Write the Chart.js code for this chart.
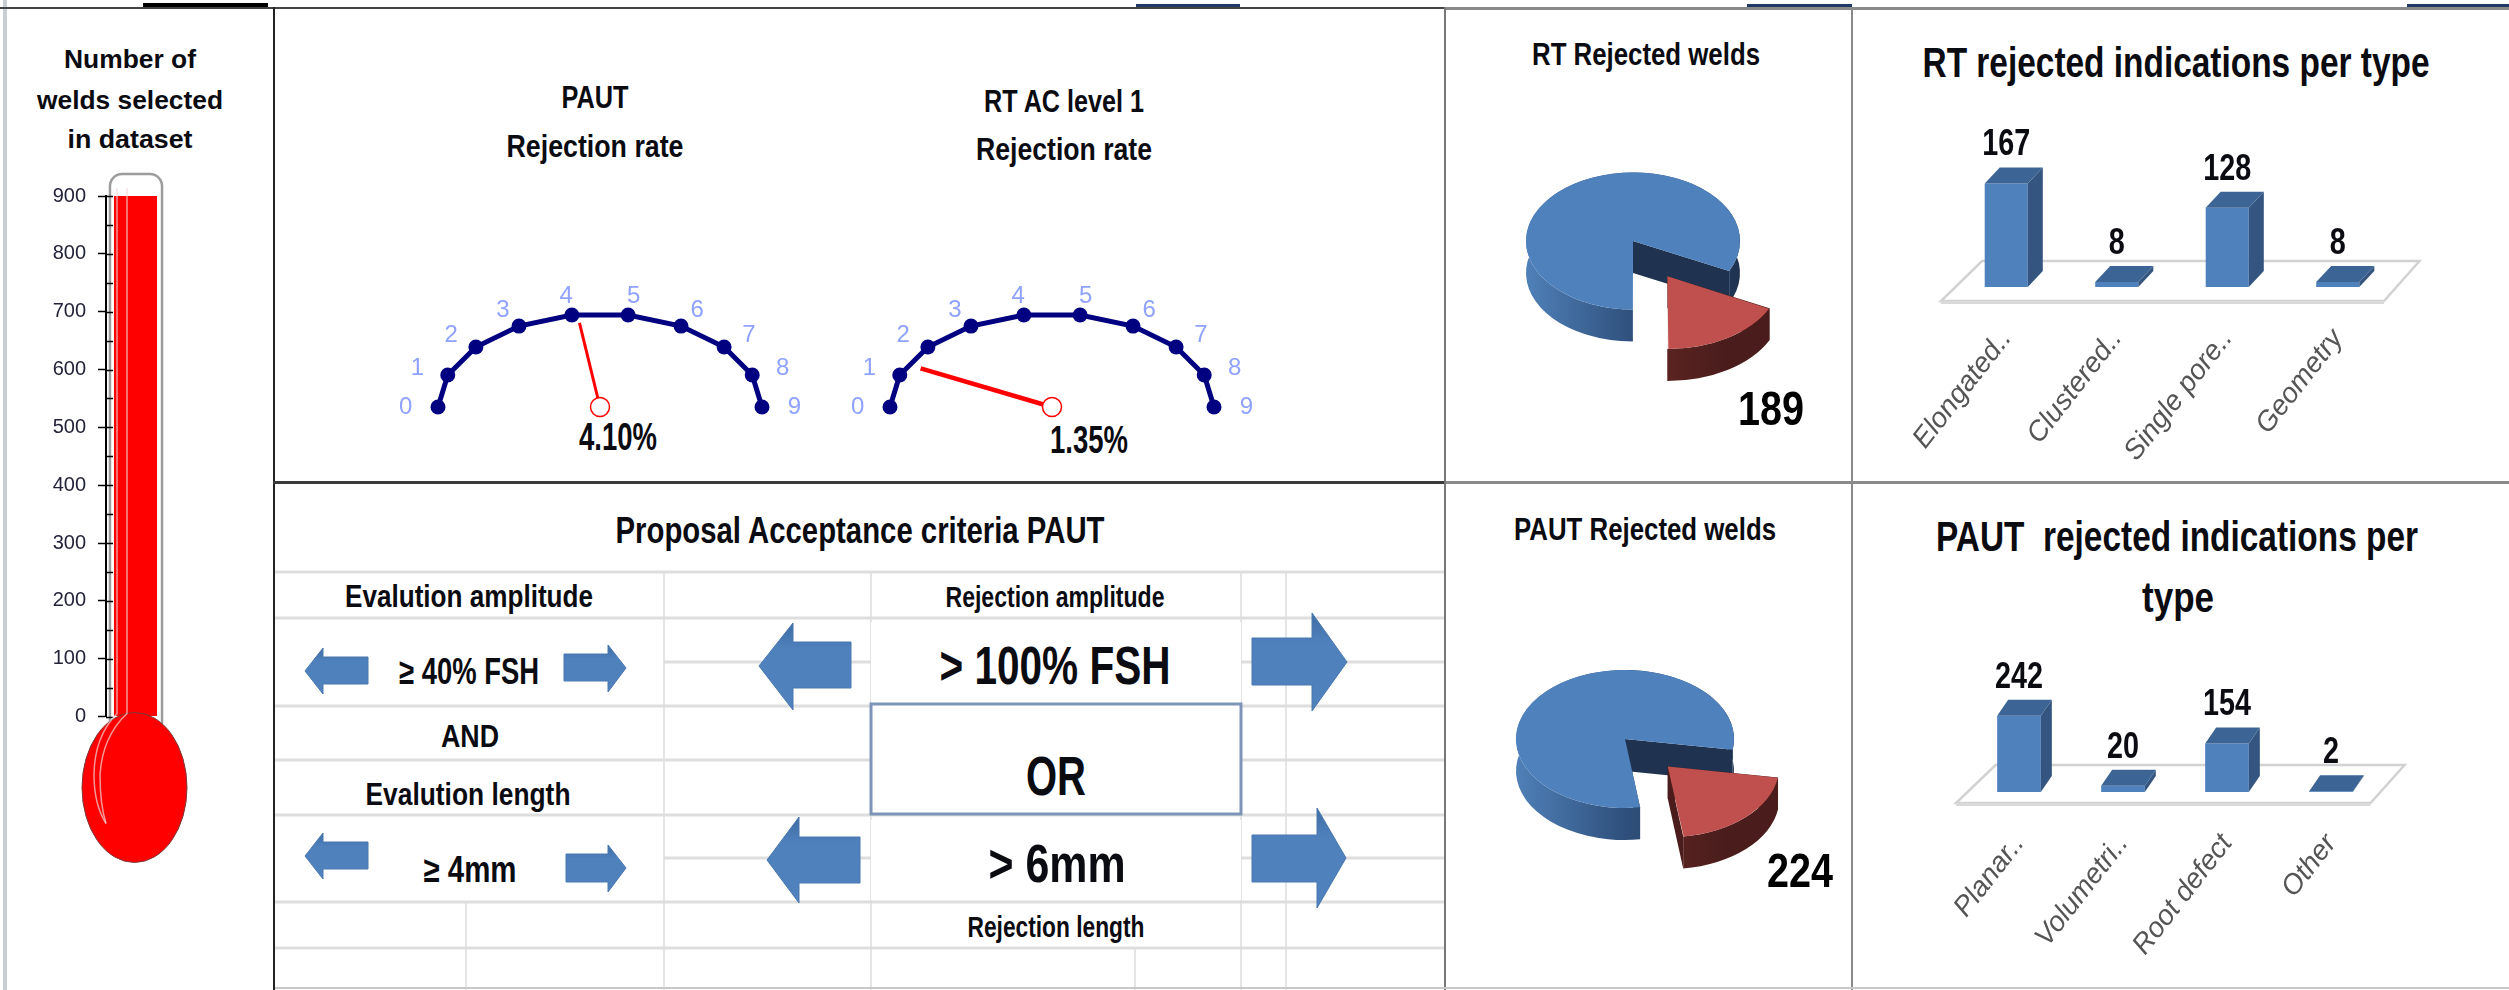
<!DOCTYPE html>
<html>
<head>
<meta charset="utf-8">
<title>Weld rejection dashboard</title>
<script src="https://cdn.jsdelivr.net/npm/chart.js@4/dist/chart.umd.min.js"></script>
<style>
  html, body { margin: 0; padding: 0; background: #fff; }
  #sheet { position: relative; width: 2509px; height: 990px; overflow: hidden; background: #fff; filter: blur(0.6px); }
  #sheet svg { position: absolute; left: 0; top: 0; }
  #sheet canvas { position: absolute; }
  text { font-family: "Liberation Sans Narrow", "Liberation Sans", sans-serif; fill: #0b0b12; font-weight: 700; text-anchor: middle; }
  .grid line { stroke: #dcdcdc; stroke-width: 1.5; }
  .gridheavy line { stroke: #dedede; stroke-width: 3; }
  .arrow { fill: url(#arrowFill); stroke: #4a78b0; stroke-width: 1; }
  .thermo { font-family: "Liberation Sans", sans-serif; }
</style>
</head>
<body>
<div id="sheet">
<svg width="2509" height="990" xmlns="http://www.w3.org/2000/svg">
  <defs>
    <linearGradient id="arrowFill" x1="0" y1="0" x2="0" y2="1">
      <stop offset="0" stop-color="#3f6da3"/>
      <stop offset="0.3" stop-color="#4f81bd"/>
      <stop offset="1" stop-color="#4f81bd"/>
    </linearGradient>
  </defs>

  <!-- sheet cells behind the criteria panel -->
  <g class="gridheavy">
    <line x1="275" y1="572" x2="1444" y2="572"/>
    <line x1="275" y1="618" x2="1444" y2="618"/>
    <line x1="664" y1="662" x2="871" y2="662"/>
    <line x1="1241" y1="662" x2="1444" y2="662"/>
    <line x1="275" y1="706" x2="1444" y2="706"/>
    <line x1="275" y1="760" x2="871" y2="760"/>
    <line x1="1241" y1="760" x2="1444" y2="760"/>
    <line x1="275" y1="815" x2="1444" y2="815"/>
    <line x1="664" y1="858" x2="871" y2="858"/>
    <line x1="1241" y1="858" x2="1444" y2="858"/>
    <line x1="275" y1="902" x2="1444" y2="902"/>
    <line x1="275" y1="948" x2="1444" y2="948"/>
  </g>
  <g class="grid">
    <line x1="664" y1="572" x2="664" y2="990"/>
    <line x1="871" y1="572" x2="871" y2="990"/>
    <line x1="1241" y1="572" x2="1241" y2="990"/>
    <line x1="1286" y1="572" x2="1286" y2="990"/>
    <line x1="466" y1="902" x2="466" y2="990"/>
    <line x1="1135" y1="948" x2="1135" y2="990"/>
  </g>
  <rect x="871" y="622" width="370" height="80" fill="#fff"/>
  <rect x="871" y="820" width="370" height="80" fill="#fff"/>
  <rect x="871" y="704" width="370" height="110" fill="#fff" stroke="#7d96b8" stroke-width="3"/>

  <!-- panel frame -->
  <rect x="3" y="0" width="4" height="990" fill="#c9ced4"/>
  <rect x="143" y="3" width="125" height="4" fill="#000"/>
  <rect x="1136" y="4" width="104" height="3" fill="#1f3864"/>
  <rect x="1747" y="4" width="105" height="3" fill="#1f3864"/>
  <rect x="2407" y="4" width="102" height="3" fill="#1f3864"/>
  <rect x="0" y="7" width="2509" height="2" fill="#444"/>
  <rect x="1445" y="7" width="1064" height="3" fill="#8a8a8a"/>
  <rect x="273" y="7" width="2" height="983" fill="#222"/>
  <rect x="273" y="481" width="1172" height="3" fill="#3a3a3a"/>
  <rect x="1445" y="481" width="1064" height="3" fill="#8a8a8a"/>
  <rect x="1444" y="7" width="2" height="983" fill="#777"/>
  <rect x="1851" y="7" width="2" height="983" fill="#8a8a8a"/>
  <rect x="275" y="987" width="2234" height="2" fill="#c8c8c8"/>

  <!-- arrows -->
  <polygon class="arrow" points="305,671 323,648 323,657 368,657 368,684 323,684 323,694"/>
  <polygon class="arrow" points="626,668 608,645 608,654 564,654 564,681 608,681 608,692"/>
  <polygon class="arrow" points="305,856 323,833 323,842 368,842 368,869 323,869 323,879"/>
  <polygon class="arrow" points="626,868 608,845 608,854 566,854 566,882 608,882 608,892"/>
  <polygon class="arrow" points="759,666 793,623 793,642 851,642 851,688 793,688 793,710"/>
  <polygon class="arrow" points="1347,662 1312,613 1312,638 1252,638 1252,685 1312,685 1312,711"/>
  <polygon class="arrow" points="767,860 799,817 799,837 860,837 860,883 799,883 799,903"/>
  <polygon class="arrow" points="1346,858 1317,808 1317,835 1252,835 1252,882 1317,882 1317,908"/>

  <!-- titles -->
  <g class="thermo">
    <text class="thermo" x="130" y="68" font-size="25" textLength="132" lengthAdjust="spacingAndGlyphs">Number of</text>
    <text class="thermo" x="130" y="109" font-size="25" textLength="186" lengthAdjust="spacingAndGlyphs">welds selected</text>
    <text class="thermo" x="130" y="148" font-size="25" textLength="125" lengthAdjust="spacingAndGlyphs">in dataset</text>
  </g>
  <text x="595" y="108" font-size="32" textLength="67" lengthAdjust="spacingAndGlyphs">PAUT</text>
  <text x="595" y="157" font-size="32" textLength="177" lengthAdjust="spacingAndGlyphs">Rejection rate</text>
  <text x="1064" y="112" font-size="32" textLength="160" lengthAdjust="spacingAndGlyphs">RT AC level 1</text>
  <text x="1064" y="160" font-size="32" textLength="176" lengthAdjust="spacingAndGlyphs">Rejection rate</text>
  <text id="pautRateText" x="618" y="450" font-size="38" textLength="78" lengthAdjust="spacingAndGlyphs"></text>
  <text id="rtRateText" x="1089" y="453" font-size="38" textLength="78" lengthAdjust="spacingAndGlyphs"></text>

  <text x="860" y="543" font-size="36" textLength="489" lengthAdjust="spacingAndGlyphs">Proposal Acceptance criteria PAUT</text>
  <text x="469" y="607" font-size="32" textLength="248" lengthAdjust="spacingAndGlyphs">Evalution amplitude</text>
  <text x="1055" y="607" font-size="29" textLength="219" lengthAdjust="spacingAndGlyphs">Rejection amplitude</text>
  <text x="469" y="684" font-size="36" textLength="140" lengthAdjust="spacingAndGlyphs">≥ 40% FSH</text>
  <text x="1055" y="684" font-size="54" textLength="231" lengthAdjust="spacingAndGlyphs">&gt; 100% FSH</text>
  <text x="470" y="747" font-size="32" textLength="58" lengthAdjust="spacingAndGlyphs">AND</text>
  <text x="1056" y="795" font-size="56" textLength="60" lengthAdjust="spacingAndGlyphs">OR</text>
  <text x="468" y="805" font-size="32" textLength="205" lengthAdjust="spacingAndGlyphs">Evalution length</text>
  <text x="470" y="882" font-size="36" textLength="93" lengthAdjust="spacingAndGlyphs">≥ 4mm</text>
  <text x="1057" y="882" font-size="54" textLength="137" lengthAdjust="spacingAndGlyphs">&gt; 6mm</text>
  <text x="1056" y="937" font-size="29" textLength="177" lengthAdjust="spacingAndGlyphs">Rejection length</text>

  <text x="1646" y="65" font-size="32" textLength="228" lengthAdjust="spacingAndGlyphs">RT Rejected welds</text>
  <text x="1645" y="540" font-size="32" textLength="262" lengthAdjust="spacingAndGlyphs">PAUT Rejected welds</text>
  <text x="2176" y="77" font-size="42" textLength="507" lengthAdjust="spacingAndGlyphs">RT rejected indications per type</text>
  <text x="2177" y="551" font-size="42" textLength="482" xml:space="preserve" lengthAdjust="spacingAndGlyphs">PAUT  rejected indications per</text>
  <text x="2178" y="612" font-size="42" textLength="72" lengthAdjust="spacingAndGlyphs">type</text>
</svg>

<canvas id="thermoChart" width="200" height="750" style="left:0;top:150px"></canvas>
<canvas id="pautDial" width="440" height="158" style="left:380px;top:277px"></canvas>
<canvas id="rtDial" width="440" height="158" style="left:832px;top:277px"></canvas>
<canvas id="rtPie" width="440" height="400" style="left:1413px;top:41px"></canvas>
<canvas id="pautPie" width="440" height="400" style="left:1405px;top:539px"></canvas>
<canvas id="rtBars" width="542" height="374" style="left:1891px;top:103px"></canvas>
<canvas id="pautBars" width="521" height="384" style="left:1907px;top:606px"></canvas>
</div>

<script>
// values
const weldsSelected = [900];
const dialTicks = [0, 1, 2, 3, 4, 5, 6, 7, 8, 9];
const pautRate = 4.10;
const rtRate = 1.35;
const rtWelds = [189, 873];
const pautWelds = [224, 880];
const rtTypes = ['Elongated..', 'Clustered..', 'Single pore..', 'Geometry'];
const rtCounts = [167, 8, 128, 8];
const pautTypes = ['Planar..', 'Volumetri..', 'Root defect', 'Other'];
const pautCounts = [242, 20, 154, 2];

const NARROW = '"Liberation Sans Narrow", "Liberation Sans", sans-serif';
const BLUE = '#4f81bd';

Chart.defaults.animation = false;
Chart.defaults.responsive = false;
Chart.defaults.events = [];
Chart.defaults.plugins.legend.display = false;
Chart.defaults.plugins.tooltip.enabled = false;

document.getElementById('pautRateText').textContent = pautRate.toFixed(2) + '%';
document.getElementById('rtRateText').textContent = rtRate.toFixed(2) + '%';

// thermometer: glass before the bar, right hand ticks and bulb after it
const thermoPlugin = {
    id: 'thermo',
    beforeDatasetsDraw(chart) {
        const { ctx, chartArea } = chart;
        const bar = chart.getDatasetMeta(0).data[0];
        const left = bar.x - bar.width / 2 - 4, right = bar.x + bar.width / 2 + 5;
        ctx.save();
        ctx.strokeStyle = '#9c9c9c';
        ctx.lineWidth = 2.5;
        ctx.beginPath();
        ctx.roundRect(left, chartArea.top - 22, right - left, chartArea.bottom - chartArea.top + 40, 12);
        ctx.stroke();
        ctx.restore();
    },
    afterDatasetsDraw(chart) {
        const { ctx, chartArea, scales } = chart;
        const bar = chart.getDatasetMeta(0).data[0];
        const axisX = chartArea.left;
        ctx.save();
        ctx.strokeStyle = '#000';
        ctx.lineWidth = 1.5;
        for (let v = 0; v <= 900; v += 50) {
            const y = Math.round(scales.y.getPixelForValue(v)) + 0.5;
            ctx.beginPath();
            ctx.moveTo(axisX, y);
            ctx.lineTo(axisX + 7, y);
            ctx.stroke();
        }
        // bulb
        const cy = chartArea.bottom + 71;
        ctx.fillStyle = '#ff0000';
        ctx.strokeStyle = '#7a3a3a';
        ctx.lineWidth = 1;
        ctx.beginPath();
        ctx.ellipse(bar.x - 1, cy, 52.5, 75, 0, 0, Math.PI * 2);
        ctx.fill();
        ctx.stroke();
        // highlight lines on the glass
        ctx.strokeStyle = 'rgba(240,215,215,0.7)';
        ctx.lineWidth = 1.5;
        [[-18.5, -41, -41.5], [-8.5, -33, -35.5]].forEach(([a, b, c]) => {
            ctx.beginPath();
            ctx.moveTo(bar.x + a, chartArea.top - 8);
            ctx.lineTo(bar.x + a, chartArea.bottom - 3);
            ctx.quadraticCurveTo(bar.x + b, chartArea.bottom + 20, bar.x + c, cy - 13);
            ctx.quadraticCurveTo(bar.x + c, cy + 17, bar.x - 29.5, cy + 36);
            ctx.stroke();
        });
        ctx.restore();
    }
};

new Chart(document.getElementById('thermoChart'), {
    type: 'bar',
    data: { labels: [''], datasets: [{ data: weldsSelected, backgroundColor: '#ff0000', barPercentage: 0.73, categoryPercentage: 1 }] },
    options: {
        layout: { padding: { top: 46, right: 35, bottom: 183.5 } },
        scales: {
            x: { display: false },
            y: {
                min: 0, max: 900,
                afterFit: s => { s.width = 106; },
                border: { color: '#000', width: 2 },
                grid: { drawOnChartArea: false, color: '#000', tickLength: 8, tickWidth: 1.5 },
                ticks: { stepSize: 100, padding: 12, color: '#23233a', font: { family: '"Liberation Sans", sans-serif', size: 20 } }
            }
        }
    },
    plugins: [thermoPlugin]
});

// 20 degrees per dial unit, starting at the left end of the half ring
function dialPoint(value, reach) {
    const a = Math.PI - value * Math.PI / 9;
    return { x: Math.cos(a) * reach, y: Math.sin(a) * reach };
}

const dialLabels = {
    id: 'dialLabels',
    afterDatasetsDraw(chart) {
        const { ctx, scales } = chart;
        ctx.save();
        ctx.fillStyle = '#8fa2ff';
        ctx.font = '24px ' + NARROW;
        ctx.textAlign = 'center';
        ctx.textBaseline = 'middle';
        dialTicks.forEach(t => {
            const p = dialPoint(t, 1.2);
            ctx.fillText(String(t), scales.x.getPixelForValue(p.x), scales.y.getPixelForValue(p.y));
        });
        ctx.restore();
    }
};

function makeDial(id, rate, needleWidth) {
    new Chart(document.getElementById(id), {
        type: 'scatter',
        data: {
            datasets: [
                {
                    data: dialTicks.map(t => dialPoint(t, 1)),
                    showLine: true, borderColor: '#000080', borderWidth: 5,
                    pointRadius: 7.5, pointBackgroundColor: '#000080', pointBorderWidth: 0
                },
                {
                    data: [{ x: 0, y: 0 }, dialPoint(rate, 0.91)],
                    showLine: true, borderColor: '#ff0000', borderWidth: needleWidth,
                    pointRadius: [9.5, 0], pointBackgroundColor: '#fff', pointBorderColor: '#ff0000', pointBorderWidth: 1.5
                }
            ]
        },
        options: {
            layout: { autoPadding: false },
            scales: {
                x: { display: false, min: -220 / 162, max: 220 / 162 },
                y: { display: false, min: -0.3, max: 1.392 }
            }
        },
        plugins: [dialLabels]
    });
}
makeDial('pautDial', pautRate, 3);
makeDial('rtDial', rtRate, 4.5);

// extruded pie: chart.js draws the top faces, walls go underneath, all squashed in y
const pie3d = {
    id: 'pie3d',
    beforeDatasetsDraw(chart, args, o) {
        const { ctx } = chart;
        const arcs = chart.getDatasetMeta(0).data;
        const cy = arcs[0].y;
        const depth = o.depth / o.squash;
        ctx.save();
        ctx.translate(0, cy);
        ctx.scale(1, o.squash);
        ctx.translate(0, -cy);
        [1, 0].forEach(i => {
            const el = arcs[i];
            const sweep = el.endAngle - el.startAngle;
            const off = el.options.offset / 4;
            const mid = (el.startAngle + el.endAngle) / 2;
            const r = el.outerRadius + off * (1 - Math.sin(Math.min(Math.PI, sweep)));
            const x0 = el.x + Math.cos(mid) * off, y0 = el.y + Math.sin(mid) * off;
            ctx.fillStyle = o.edge[i];
            [el.startAngle, el.endAngle].forEach(a => {
                const ex = x0 + Math.cos(a) * r, ey = y0 + Math.sin(a) * r;
                ctx.beginPath();
                ctx.moveTo(x0, y0);
                ctx.lineTo(ex, ey);
                ctx.lineTo(ex, ey + depth);
                ctx.lineTo(x0, y0 + depth);
                ctx.closePath();
                ctx.fill();
            });
            const grad = ctx.createLinearGradient(x0 - r, 0, x0 + r, 0);
            o.wall[i].forEach((c, k) => grad.addColorStop(k / (o.wall[i].length - 1), c));
            ctx.fillStyle = grad;
            ctx.beginPath();
            ctx.arc(x0, y0, r, el.startAngle, el.endAngle);
            ctx.arc(x0, y0 + depth, r, el.endAngle, el.startAngle, true);
            ctx.closePath();
            ctx.fill();
        });
        // squash stays on for the faces chart.js is about to draw
    },
    afterDatasetsDraw(chart, args, o) {
        const { ctx } = chart;
        ctx.restore();
        const el = chart.getDatasetMeta(0).data[0];
        ctx.save();
        ctx.fillStyle = '#000';
        ctx.font = 'bold 48px ' + NARROW;
        ctx.textAlign = 'center';
        ctx.fillText(String(chart.data.datasets[0].data[0]), el.x + o.labelX, el.y + o.labelY, 66);
        ctx.restore();
    }
};

function makePie(id, data, rotation, redOffset, squash, radius, labelX, labelY) {
    new Chart(document.getElementById(id), {
        type: 'pie',
        data: {
            labels: ['Rejected', 'Accepted'],
            datasets: [{
                data: data,
                backgroundColor: ['#c0504d', BLUE],
                borderWidth: 0,
                offset: [redOffset, 0],
                rotation: rotation,
                radius: radius
            }]
        },
        options: {
            plugins: {
                pie3d: {
                    depth: 32, squash: squash, labelX: labelX, labelY: labelY,
                    edge: ['#4a1d1c', '#1f3350'],
                    wall: [['#4a1d1c', '#7d3836', '#5a2321', '#4a1d1c', '#4a1d1c'], ['#4f80b8', '#2f507c', '#1f3350']]
                }
            }
        },
        plugins: [pie3d]
    });
}
makePie('rtPie', rtWelds, 116, 260, 0.64, 107, 138, 184);
makePie('pautPie', pautWelds, 99, 244, 0.633, 109, 175, 148);

// column chart with fake depth: floor below, side and top faces added to the library's bars
const bars3d = {
    id: 'bars3d',
    beforeDatasetsDraw(chart, args, o) {
        const { ctx, chartArea, scales } = chart;
        const base = scales.y.getPixelForValue(0);
        const [bl, br, tr, tl, down, up] = o.floor;
        ctx.save();
        ctx.fillStyle = '#fff';
        ctx.strokeStyle = '#d2d2d2';
        ctx.lineWidth = 2.5;
        ctx.beginPath();
        ctx.moveTo(chartArea.left + bl, base + down);
        ctx.lineTo(chartArea.right + br, base + down);
        ctx.lineTo(chartArea.right + tr, base - up);
        ctx.lineTo(chartArea.left + tl, base - up);
        ctx.closePath();
        ctx.fill();
        ctx.stroke();
        ctx.fillStyle = '#d9d9d9';
        ctx.fillRect(chartArea.left + bl, base + down, br - bl + chartArea.right - chartArea.left, 3);
        ctx.restore();
    },
    afterDatasetsDraw(chart, args, o) {
        const { ctx } = chart;
        const values = chart.data.datasets[0].data;
        ctx.save();
        chart.getDatasetMeta(0).data.forEach((bar, i) => {
            const l = bar.x - bar.width / 2, r = bar.x + bar.width / 2;
            ctx.fillStyle = '#33557f';
            ctx.beginPath();
            ctx.moveTo(r, bar.y);
            ctx.lineTo(r + o.dx, bar.y - o.dy);
            ctx.lineTo(r + o.dx, bar.base - o.dy);
            ctx.lineTo(r, bar.base);
            ctx.closePath();
            ctx.fill();
            ctx.fillStyle = '#3c6595';
            ctx.beginPath();
            ctx.moveTo(l, bar.y);
            ctx.lineTo(l + o.dx, bar.y - o.dy);
            ctx.lineTo(r + o.dx, bar.y - o.dy);
            ctx.lineTo(r, bar.y);
            ctx.closePath();
            ctx.fill();
            ctx.fillStyle = '#0b0b12';
            ctx.font = '700 36px ' + NARROW;
            ctx.textAlign = 'center';
            ctx.fillText(String(values[i]), bar.x, bar.y - o.dy - 12, values[i] > 99 ? 48 : values[i] > 9 ? 32 : 16);
        });
        ctx.restore();
    }
};

function makeBars(id, labels, data, max, barShare, axisHeight, pad, opts) {
    new Chart(document.getElementById(id), {
        type: 'bar',
        data: { labels: labels, datasets: [{ data: data, backgroundColor: BLUE, barPercentage: 1, categoryPercentage: barShare }] },
        options: {
            layout: { padding: pad },
            plugins: { bars3d: opts },
            scales: {
                y: { display: false, min: 0, max: max },
                x: {
                    afterFit: s => { s.height = axisHeight; s.paddingLeft = 0; s.paddingRight = 0; },
                    border: { display: false },
                    grid: { display: false },
                    ticks: {
                        autoSkip: false, minRotation: 52, maxRotation: 52, padding: 28,
                        color: '#555',
                        font: { family: '"Liberation Sans", sans-serif', size: 28, style: 'italic' }
                    }
                }
            }
        },
        plugins: [bars3d]
    });
}
makeBars('rtBars', rtTypes, rtCounts, 200, 0.39, 190, { top: 60, left: 60, right: 40 },
    { dx: 15, dy: 16, floor: [-10, -9, 26.5, 31, 14, 26] });
makeBars('pautBars', pautTypes, pautCounts, 400, 0.42, 198, { top: 60, left: 60, right: 45 },
    { dx: 11, dy: 16, floor: [-11, -12.5, 21.6, 28.6, 11, 27] });
</script>
</body>
</html>
